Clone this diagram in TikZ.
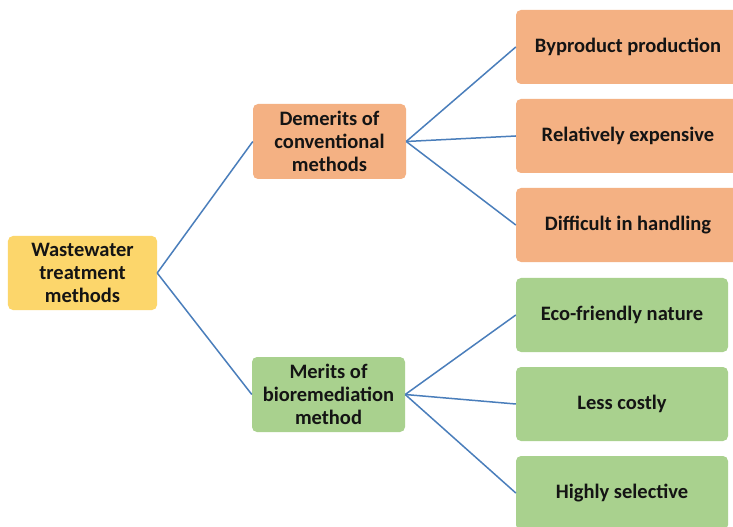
\documentclass[tikz,border=0pt]{standalone}
\usepackage{fontspec}
\setmainfont{Carlito}
\definecolor{rootfill}{HTML}{FCD66B}
\definecolor{demfill}{HTML}{F4B183}
\definecolor{merfill}{HTML}{A9D18E}
\definecolor{linkblue}{HTML}{4A7EBB}
\begin{document}
\begin{tikzpicture}[x=1bp,y=-1bp,
  box/.style={rounded corners=5bp,draw=none,align=center,inner sep=0pt,
    font=\fontsize{20.5bp}{23bp}\selectfont\bfseries,text=black!92},
  link/.style={draw=linkblue,line width=1.5bp}]
\clip (0,0) rectangle (733,527);
\fill[white] (0,0) rectangle (733,527);
% root and second level
\node[box,fill=rootfill,minimum width=149bp,minimum height=74bp] (root) at (82.5,273) {Wastewater\\treatment\\methods};
\node[box,fill=demfill,minimum width=153bp,minimum height=75bp] (dem) at (329.5,141.5) {Demerits of\\conventional\\methods};
\node[box,fill=merfill,minimum width=153bp,minimum height=75bp] (mer) at (328.5,394.5) {Merits of\\bioremediation\\method};
% leaves
\node[box,fill=demfill,minimum width=224bp,minimum height=74bp] (d1) at (628,47) {Byproduct production};
\node[box,fill=demfill,minimum width=224bp,minimum height=74bp] (d2) at (628,136) {Relatively expensive};
\node[box,fill=demfill,minimum width=224bp,minimum height=74bp] (d3) at (628,225) {Difficult in handling};
\node[box,fill=merfill,minimum width=212bp,minimum height=74bp] (m1) at (622,315) {Eco-friendly nature};
\node[box,fill=merfill,minimum width=212bp,minimum height=74bp] (m2) at (622,404) {Less costly};
\node[box,fill=merfill,minimum width=212bp,minimum height=74bp] (m3) at (622,493) {Highly selective};
% connectors
\draw[link] (root.east) -- (dem.west);
\draw[link] (root.east) -- (mer.west);
\foreach \t in {d1,d2,d3} \draw[link] (dem.east) -- (\t.west);
\foreach \t in {m1,m2,m3} \draw[link] (mer.east) -- (\t.west);
\end{tikzpicture}
\end{document}
